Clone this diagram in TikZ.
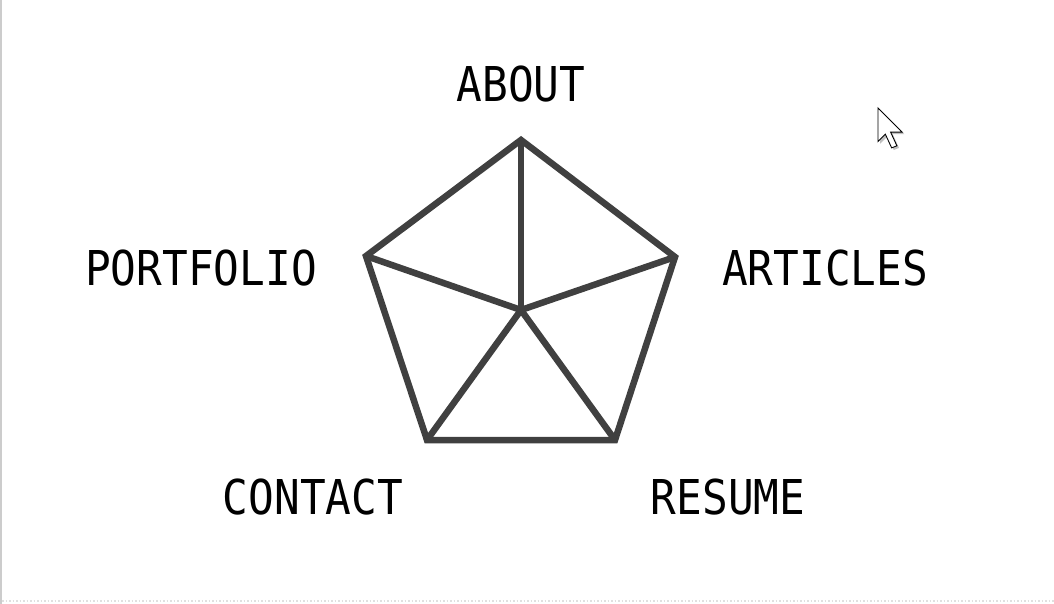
\documentclass[tikz,border=0pt]{standalone}
\usepackage{fontspec}
\newfontfamily\menufont{DejaVu Sans Mono}
\usetikzlibrary{positioning, calc}

\begin{document}
\begin{tikzpicture}[x=1pt, y=-1pt,
    edge/.style={draw=black!75, line width=6.5pt, line join=miter},
    menu/.style={font=\menufont\fontsize{48}{48}\selectfont, xscale=0.89, inner sep=0pt, anchor=base}]
  \useasboundingbox[fill=white] (0,0) rectangle (1054,604);
  \draw[black!20, line width=1.5pt] (0.75,0) -- (0.75,604);
  \draw[black!12, line width=1.5pt, dotted] (2,601) -- (1054,601);
  % pentagon corners
  \coordinate (c) at (521,310);
  \coordinate (top) at (521,140);
  \coordinate (right) at (675,257);
  \coordinate (bright) at (615,440);
  \coordinate (bleft) at (427,440);
  \coordinate (left) at (366,256);
  \draw[edge] (top) -- (right) -- (bright) -- (bleft) -- (left) -- cycle;
  \foreach \v in {top, right, bright, bleft, left}
    \draw[edge] (c) -- (\v);
  % labels
  \node[menu] (about) at (521,102) {ABOUT};
  \node[menu] (articles) at (825,285) {ARTICLES};
  \node[menu] (portfolio) at (201,285) {PORTFOLIO};
  \node[menu] (contact) at (313,514) {CONTACT};
  \node[menu] (resume) at (728,514) {RESUME};
  % mouse pointer
  \begin{scope}[shift={(878,108)}, scale=2.1]
    \fill[black!25] (1,1) -- (1,17) -- (4.5,13.5) -- (7.5,20) -- (10,19) -- (7,12.5) -- (12.5,12.5) -- cycle;
    \draw[fill=white, line width=0.9pt, line join=miter] (0,0) -- (0,16) -- (3.5,12.5) -- (6.5,19) -- (9,18) -- (6,11.5) -- (11.5,11.5) -- cycle;
  \end{scope}
\end{tikzpicture}
\end{document}
